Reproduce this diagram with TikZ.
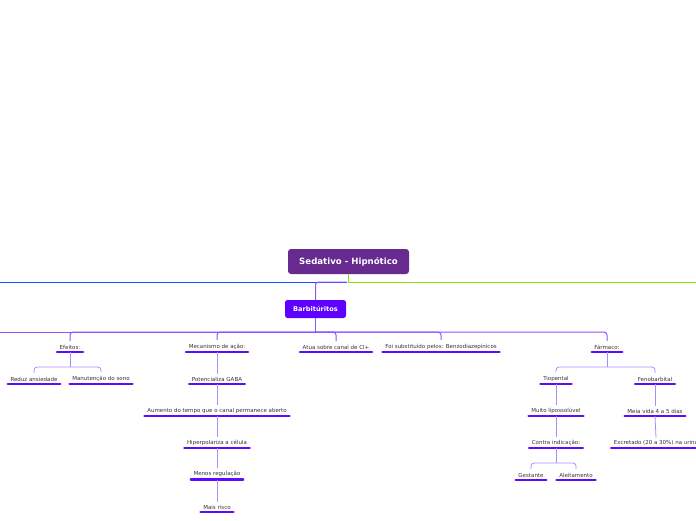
\documentclass[tikz,border=0pt]{standalone}
\usepackage{fontspec}
\setmainfont{DejaVu Sans}
\definecolor{rootc}{HTML}{672B8F}
\definecolor{barbc}{HTML}{5E00FF}
\definecolor{ulc}{HTML}{5E0AFF}
\definecolor{connc}{HTML}{A78BFF}
\definecolor{hconn}{HTML}{8A55FF}
\definecolor{bluel}{HTML}{0A55FF}
\definecolor{greenl}{HTML}{88E000}
\definecolor{txtc}{HTML}{333333}
\begin{document}
\begin{tikzpicture}[x=1pt,y=1pt,
  leaf/.style={font=\fontsize{5.5}{6.5}\selectfont, text=txtc, inner xsep=3.5, inner ysep=2.6, anchor=south},
  uline/.style={draw=ulc, line width=2.8, line cap=round},
  conn/.style={draw=connc, line width=0.8, rounded corners=3},
  hline/.style={draw=hconn, line width=1, rounded corners=3},
  rootbox/.style={fill=rootc, rounded corners=3, text=white, font=\bfseries\fontsize{8.6}{10}\selectfont, minimum width=121, minimum height=25},
  barbbox/.style={fill=barbc, rounded corners=2.5, text=white, font=\bfseries\fontsize{6.6}{8}\selectfont, minimum width=61, minimum height=18}
]
\useasboundingbox (0,0) rectangle (696,-520);
\clip (0,0) rectangle (696,-520);

% root
\node[rootbox] (root) at (348.5,-261.5) {Sedativo - Hipnótico};
\node[barbbox] (barb) at (315.5,-309) {Barbitúritos};

\coordinate (lblue) at (0,-282);
\coordinate (rgreen) at (696,-282);
\coordinate (rj) at (348,-282);
\coordinate (rjb) at (346.5,-282);
\draw[draw=bluel, line width=1] (rjb) -- (lblue);
\draw[draw=greenl, line width=1] (root.south -| rj) -- (rj) -- (rgreen);
\draw[draw=hconn, line width=1, rounded corners=3] (rjb) -| (barb.north);

% level 2 nodes
\node[leaf] (efeitos) at (70,-352) {Efeitos:};
\node[leaf] (mec) at (217,-352) {Mecanismo de ação:};
\node[leaf] (atua) at (336,-352) {Atua sobre canal de Cl+};
\node[leaf] (foi) at (441,-352) {Foi substituído pelos: Benzodiazepínicos};
\node[leaf] (farm) at (607,-352) {Fármaco:};

% level 3+
\node[leaf] (reduz) at (34,-384) {Reduz ansiedade};
\node[leaf] (manut) at (101,-384) {Manutenção do sono};
\node[leaf] (pot) at (217,-384) {Potencializa GABA};
\node[leaf] (aum) at (217,-416) {Aumento do tempo que o canal permanece aberto};
\node[leaf] (hiper) at (217,-448) {Hiperpolariza a célula};
\node[leaf] (menos) at (217,-479.5) {Menos regulação};
\node[leaf] (mais) at (217,-512) {Mais risco};

\node[leaf] (tio) at (556,-384) {Tiopental};
\node[leaf] (feno) at (655,-384) {Fenobarbital};
\node[leaf] (muito) at (556,-416) {Muito lipossolúvel};
\node[leaf] (meia) at (655,-416) {Meia vida 4 a 5 dias};
\node[leaf] (contra) at (556,-448) {Contra indicação:};
\node[leaf] (excr) at (656,-448) {Excretado (20 a 30\%) na urina};
\node[leaf] (gest) at (531,-480) {Gestante};
\node[leaf] (aleit) at (576,-480) {Aleitamento};

% underlines
\foreach \n in {efeitos,mec,atua,foi,farm,reduz,manut,pot,aum,hiper,menos,mais,tio,feno,muito,meia,contra,excr,gest,aleit}
  \draw[uline] ([xshift=1]\n.south west) -- ([xshift=-1]\n.south east);

% Barbitúritos fork
\coordinate (bj) at (315.5,-332);
\coordinate (lleft) at (0,-332);
\draw[draw=hconn, line width=1] (barb.south) -- (bj);
\draw[hline] (bj) -- (lleft);
\foreach \n in {efeitos,mec,atua,foi,farm}
  \draw[hline] (bj) -| ([yshift=1]\n.north);

% Efeitos fork
\coordinate (ej) at (70,-367);
\draw[conn] (efeitos.south) -- (ej);
\draw[conn] (ej) -| ([yshift=1]reduz.north);
\draw[conn] (ej) -| ([yshift=1]manut.north);

% Mecanismo chain
\draw[conn] (mec.south) -- (pot.north);
\draw[conn] (pot.south) -- (aum.north);
\draw[conn] (aum.south) -- (hiper.north);
\draw[conn] (hiper.south) -- (menos.north);
\draw[conn] (menos.south) -- (mais.north);

% Farmaco fork
\coordinate (fj) at (607,-367);
\draw[conn] (farm.south) -- (fj);
\draw[conn] (fj) -| ([yshift=1]tio.north);
\draw[conn] (fj) -| ([yshift=1]feno.north);
\draw[conn] (tio.south) -- (muito.north);
\draw[conn] (muito.south) -- (contra.north);
\draw[conn] (feno.south) -- (meia.north);
\draw[conn] (meia.south) -- (excr.north);

% Contra fork
\coordinate (cj) at (556,-463);
\draw[conn] (contra.south) -- (cj);
\draw[conn] (cj) -| ([yshift=1]gest.north);
\draw[conn] (cj) -| ([yshift=1]aleit.north);
\end{tikzpicture}
\end{document}
